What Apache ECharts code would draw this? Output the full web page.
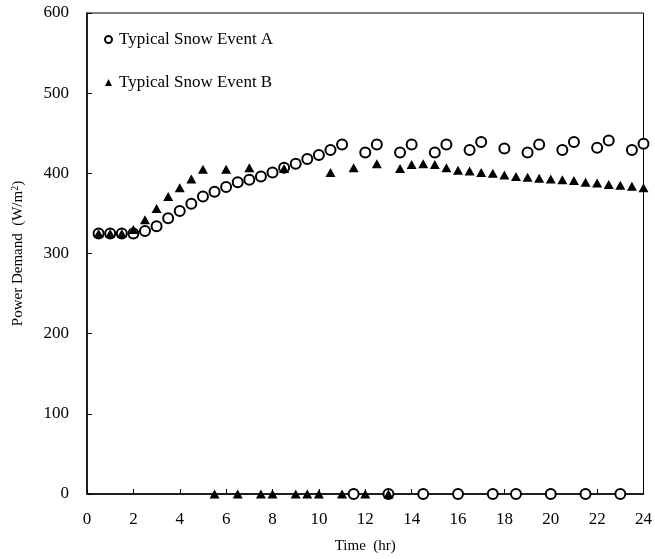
<!DOCTYPE html>
<html><head><meta charset="utf-8">
<script src="https://cdn.jsdelivr.net/npm/echarts@6/dist/echarts.min.js"></script>
<style>html,body{margin:0;padding:0;background:#fff}#c{width:655px;height:559px}</style>
</head><body><div id="c"></div>
<script>
var times = [0.5,1,1.5,2,2.5,3,3.5,4,4.5,5,5.5,6,6.5,7,7.5,8,8.5,9,9.5,10,10.5,11,11.5,12,
             12.5,13,13.5,14,14.5,15,15.5,16,16.5,17,17.5,18,18.5,19,19.5,20,20.5,21,21.5,22,22.5,23,23.5,24];
var eventA = [325,325,325,325,328,334,344,353,362,371,377,383,389,392,396,401,407,412,418,423,429,436,0,426,
              436,0,426,436,0,426,436,0,429,439,0,431,0,426,436,0,429,439,0,432,441,0,429,437];
var eventB = [325,325,325,330,342,356,371,382,393,405,0,405,0,407,0,0,406,0,0,0,401,0,407,0,
              412,0,406,411,412,411,407,404,403,401,400,398,396,395,394,393,392,391,389,388,386,385,384,382];
var xTicks = [0,2,4,6,8,10,12,14,16,18,20,22,24];
var yTicks = [0,100,200,300,400,500,600];
var seriesNames = ['Typical Snow Event A','Typical Snow Event B'];

function pairs(v){ return times.map(function(t,i){ return [t, v[i]]; }); }
var font = 'Liberation Serif';
var chart = echarts.init(document.getElementById('c'));
chart.setOption({
  animation:false,
  textStyle:{fontFamily:font,color:'#000'},
  grid:{left:87,right:10,top:13,bottom:62,show:true,borderColor:'#000',borderWidth:1,backgroundColor:'transparent'},
  legend:{
    orient:'vertical', left:99, top:26, itemGap:26, itemWidth:7, itemHeight:7,
    textStyle:{fontFamily:font,fontSize:17,color:'#000',padding:[0,0,0,2]},
    data:[{name:seriesNames[0],icon:'emptyCircle',itemStyle:{opacity:1,borderWidth:1}},{name:seriesNames[1],icon:'triangle',itemStyle:{opacity:1}}]
  },
  xAxis:{
    type:'value', min:xTicks[0], max:xTicks[xTicks.length-1], interval:2,
    name:'Time  (hr)', nameLocation:'middle', nameGap:45,
    nameTextStyle:{fontFamily:font,fontSize:15,color:'#000'},
    axisLine:{show:true,lineStyle:{color:'#000',width:1.5}},
    axisTick:{show:true,inside:true,length:5,lineStyle:{color:'#000'}},
    axisLabel:{fontFamily:font,fontSize:17,color:'#000',margin:17},
    splitLine:{show:false}
  },
  yAxis:{
    type:'value', min:yTicks[0], max:yTicks[yTicks.length-1], interval:100,
    name:'{n|Power Demand  (W/m}{s|2}{n|)}', nameLocation:'middle', nameGap:60, nameRotate:90,
    nameTextStyle:{rich:{n:{fontFamily:font,fontSize:15,color:'#000'},s:{fontFamily:font,fontSize:10,color:'#000',verticalAlign:'top',padding:[0,0,7,0]}}},
    axisLine:{show:true,lineStyle:{color:'#000',width:1.5}},
    axisTick:{show:true,inside:true,length:5,lineStyle:{color:'#000'}},
    axisLabel:{fontFamily:font,fontSize:17,color:'#000',margin:18},
    splitLine:{show:false}
  },
  series:[
    {name:seriesNames[0],type:'scatter',symbol:'emptyCircle',symbolSize:10,clip:false,
     itemStyle:{color:'#000',borderColor:'#000',borderWidth:1.2,opacity:1},data:pairs(eventA)},
    {name:seriesNames[1],type:'scatter',symbol:'triangle',symbolSize:[10,9],clip:false,
     itemStyle:{color:'#000',opacity:1},data:pairs(eventB)}
  ]
});
</script></body></html>
